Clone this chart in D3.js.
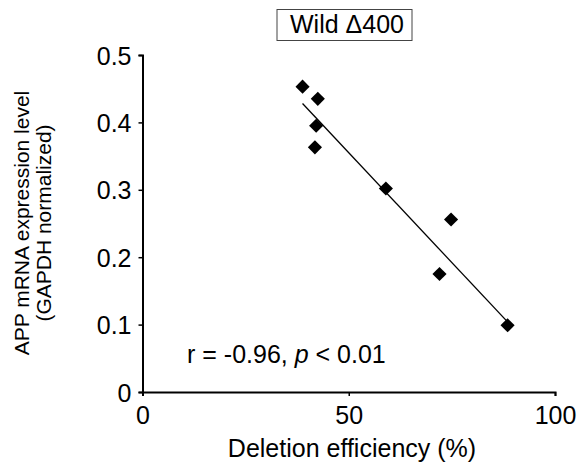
<!DOCTYPE html>
<html>
<head>
<meta charset="utf-8">
<script src="https://cdn.jsdelivr.net/npm/d3@7"></script>
<style>
  body { margin: 0; background: #fff; }
  svg { display: block; font-family: "Liberation Sans", Arial, sans-serif; }
</style>
</head>
<body>
<svg width="581" height="476"></svg>
<script>
  // deletion efficiency (%) and APP mRNA level
  const deletion = [38.8, 42.5, 42.1, 41.8, 59.0, 74.8, 72.0, 88.5];
  const appLevel = [0.453, 0.435, 0.395, 0.363, 0.302, 0.256, 0.175, 0.099];
  // fitted line ends
  const trendX = [38.8, 88.5];
  const trendY = [0.428, 0.104];
  const xTicks = [0, 50, 100];
  const yTicks = [0, 0.1, 0.2, 0.3, 0.4, 0.5];

  const svg = d3.select("svg");

  const x = d3.scaleLinear().domain([0, 100]).range([142.5, 555]);
  const y = d3.scaleLinear().domain([0, 0.5]).range([392, 55]);

  // axes
  const xAxis = svg.append("g")
    .attr("transform", `translate(0,${y(0)})`)
    .call(d3.axisBottom(x).tickValues(xTicks).tickFormat(d3.format("d")).tickSizeOuter(4).tickSizeInner(4).tickPadding(10));
  const yAxis = svg.append("g")
    .attr("transform", `translate(${x(0)},0)`)
    .call(d3.axisLeft(y).tickValues(yTicks).tickFormat(d => d === 0 ? "0" : d3.format(".1f")(d)).tickSizeOuter(4).tickSizeInner(4).tickPadding(7));

  [xAxis, yAxis].forEach(a => {
    a.select(".domain").attr("stroke", "#000").attr("stroke-width", 2);
    a.selectAll(".tick line").attr("stroke", "#000").attr("stroke-width", 1.5);
    a.selectAll(".tick text").attr("fill", "#000").style("font-size", "25px").style("font-family", "'Liberation Sans', Arial, sans-serif");
  });
  yAxis.selectAll(".tick text").attr("dy", "0.36em");

  // trend line
  svg.append("line")
    .attr("x1", x(trendX[0])).attr("y1", y(trendY[0]))
    .attr("x2", x(trendX[1])).attr("y2", y(trendY[1]))
    .attr("stroke", "#000").attr("stroke-width", 1.3);

  // diamonds
  const pts = deletion.map((d, i) => ({ x: d, y: appLevel[i] }));
  svg.selectAll("path.pt")
    .data(pts)
    .enter()
    .append("path")
    .attr("class", "pt")
    .attr("d", d3.symbol().type(d3.symbolSquare).size(100))
    .attr("transform", d => `translate(${x(d.x)},${y(d.y)}) rotate(45)`)
    .attr("fill", "#000");

  // title box
  svg.append("rect")
    .attr("x", 277).attr("y", 9.5).attr("width", 135).attr("height", 31)
    .attr("fill", "none").attr("stroke", "#444").attr("stroke-width", 1);
  svg.append("text")
    .attr("x", 347).attr("y", 33)
    .attr("text-anchor", "middle")
    .style("font-size", "25px")
    .text("Wild \u0394400");

  // stats text
  const stat = svg.append("text")
    .attr("x", 187).attr("y", 363)
    .style("font-size", "25px");
  stat.append("tspan").text("r = -0.96, ");
  stat.append("tspan").style("font-style", "italic").text("p");
  stat.append("tspan").text(" < 0.01");

  // axis titles
  svg.append("text")
    .attr("x", 352).attr("y", 457)
    .attr("text-anchor", "middle")
    .style("font-size", "25px")
    .text("Deletion efficiency (%)");

  const yt = svg.append("text")
    .attr("transform", "translate(29,223) rotate(-90)")
    .attr("text-anchor", "middle")
    .style("font-size", "21px");
  yt.append("tspan").attr("x", 0).attr("y", 0).text("APP mRNA expression level");
  yt.append("tspan").attr("x", 0).attr("y", 22).text("(GAPDH normalized)");
</script>
</body>
</html>
